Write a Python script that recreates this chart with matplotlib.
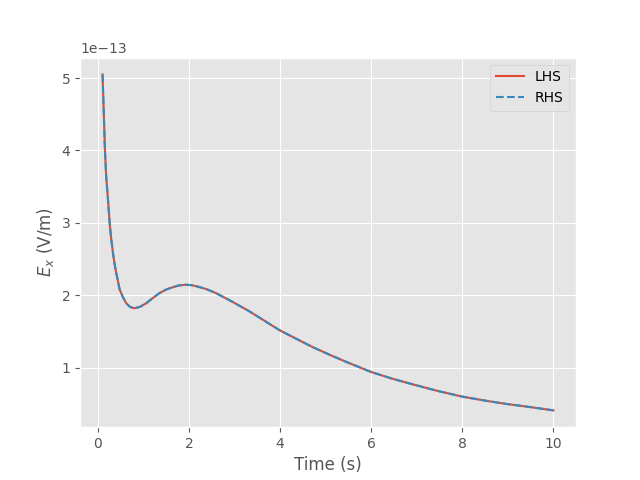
import numpy as np
import matplotlib
matplotlib.use('Agg')
import matplotlib.pyplot as plt

# values (Ex in units of 1e-13 V/m)
time_s = [0.1, 0.125, 0.153, 0.18, 0.22, 0.256, 0.29, 0.33, 0.365, 0.40, 0.44, 0.475,
          0.55, 0.62, 0.70, 0.80, 0.92, 1.06, 1.2, 1.35, 1.5, 1.64, 1.77, 1.92,
          2.05, 2.19, 2.4, 2.59, 2.95, 3.32, 3.65, 3.98, 4.35, 4.71, 5.08,
          5.45, 6.0, 6.45, 6.91, 7.45, 8.0, 8.5, 8.96, 9.5, 10.0]
ex_vals = [5.05, 4.56, 4.00, 3.64, 3.32, 3.00, 2.78, 2.58, 2.43, 2.31, 2.19, 2.08,
           1.97, 1.89, 1.84, 1.82, 1.84, 1.89, 1.96, 2.03, 2.08, 2.11, 2.135, 2.145,
           2.14, 2.12, 2.08, 2.03, 1.91, 1.78, 1.65, 1.52, 1.40, 1.285, 1.18,
           1.08, 0.94, 0.85, 0.77, 0.68, 0.60, 0.545, 0.50, 0.455, 0.41]

t = np.array(time_s)
lhs = np.array(ex_vals) * 1e-13
rhs = np.array(ex_vals) * 1e-13

plt.style.use('ggplot')
fig, ax = plt.subplots(figsize=(6.4, 4.8), dpi=100)

ax.plot(t, lhs, label='LHS')
ax.plot(t, rhs, '--', label='RHS')

ax.set_xlabel('Time (s)')
ax.set_ylabel('$E_x$ (V/m)')
ax.legend()

fig.savefig('out.png')
